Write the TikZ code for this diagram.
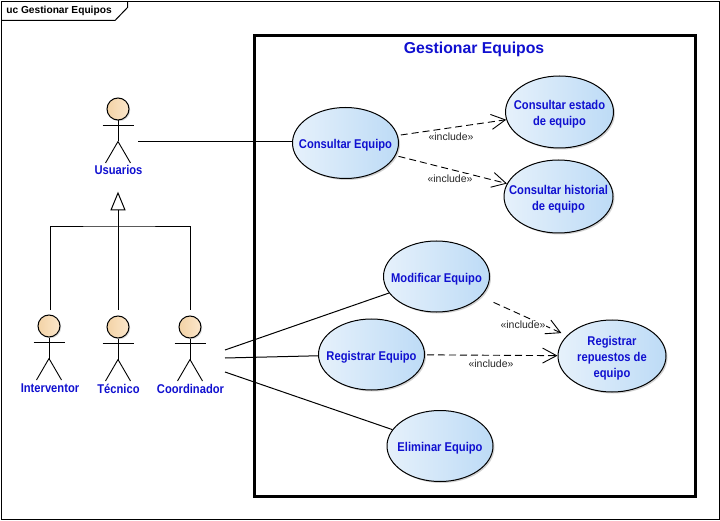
\documentclass[tikz,border=0pt]{standalone}
\usepackage{fontspec}
\setmainfont{Liberation Sans}
\newfontfamily\ucnarrow{Liberation Sans}[FakeStretch=0.88]
\usetikzlibrary{arrows.meta,shapes.geometric,shadows}
\definecolor{ublue}{HTML}{1010D0}
\definecolor{ucL}{HTML}{E6F1FB}
\definecolor{ucR}{HTML}{BDDBF6}
\definecolor{headL}{HTML}{F3D3A6}
\definecolor{headR}{HTML}{FBE6CB}
\newcommand{\uclift}{\rule{0pt}{14pt}}
\tikzset{
  usecase/.style={ellipse,draw=black,line width=1pt,inner xsep=-30pt,inner ysep=-12pt,minimum width=106pt,minimum height=71pt,
    left color=ucL,right color=ucR,text=ublue,align=center,
    font=\ucnarrow\fontsize{12.7}{16.2}\selectfont\bfseries,
    drop shadow={shadow xshift=1.5pt,shadow yshift=-1.5pt,fill=gray,opacity=.35}},
  head/.style={circle,draw=black,line width=1pt,inner sep=0pt,minimum size=22pt,
    left color=headL,right color=headR,
    drop shadow={shadow xshift=1.2pt,shadow yshift=-1.2pt,fill=gray,opacity=.3}},
  actorlabel/.style={text=ublue,font=\ucnarrow\fontsize{12.7}{14}\selectfont\bfseries,inner sep=0pt},
  stick/.style={draw=black,line width=.9pt},
  assoc/.style={draw=black,line width=1pt},
  incl/.style={draw=black,line width=.9pt,dash pattern=on 7pt off 4pt,
    -{Straight Barb[length=14pt,width=15pt,line width=.9pt]}},
  incllabel/.style={font=\fontsize{10.5}{12}\selectfont,inner sep=.5pt,fill=white,text=black!85},
}
\newcommand{\ucactor}[6]{% name, x, heady, label, labely, labelx
  \node[head] (#1h) at (#2,#3) {};
  \draw[stick] (#1h.south) -- ++(0,21) coordinate (#1c);
  \coordinate (#1a) at (#2,#3+16);
  \draw[stick] ([xshift=-15.5pt]#1a) -- ([xshift=15.5pt]#1a);
  \draw[stick] (#1c) -- ++(-12.5,21.5);
  \draw[stick] (#1c) -- ++(12.5,21.5);
  \node[actorlabel] (#1l) at (#6,#5) {#4};
}
\begin{document}
\begin{tikzpicture}[x=1pt,y=-1pt]
\useasboundingbox (0,0) rectangle (720,521);
\fill[white] (0,0) rectangle (720,521);
% frame
\node[draw=none,inner sep=0pt] (tab) at (59,10.5) {\fontsize{10.2}{12}\selectfont\bfseries uc Gestionar Equipos};
\draw[black,line width=1pt] (1.5,1.5) rectangle (719,519.5);
\draw[black,line width=1pt] (1.5,20.5) -- (115,20.5) -- (127.5,7.5) -- (127.5,1.5);
% boundary
\draw[black,line width=3pt] (254,36) rectangle (695,496);
\node[text=ublue,font=\fontsize{15.8}{18}\selectfont\bfseries,inner sep=0pt] (title) at (474,49.5) {Gestionar Equipos};
% use cases
\node[usecase] (ce) at (345.5,143) {\uclift Consultar Equipo};
\node[usecase,minimum width=108pt,minimum height=72pt] (ces) at (559.5,112) {\uclift Consultar estado\\de equipo};
\node[usecase,minimum width=109pt,minimum height=73pt] (ch) at (558.5,196.5) {\uclift Consultar historial\\de equipo};
\node[usecase] (mod) at (436.5,276.5) {\uclift Modificar Equipo};
\node[usecase] (reg) at (371.5,354.5) {\uclift Registrar Equipo};
\node[usecase,minimum width=108pt,minimum height=72pt] (rep) at (612,356) {\uclift Registrar\\repuestos de\\equipo};
\node[usecase] (eli) at (440,446) {\uclift Eliminar Equipo};
% actors
\ucactor{usr}{118}{109}{Usuarios}{170}{118.5}
\ucactor{int}{49}{326}{Interventor}{388}{50}
\ucactor{tec}{118}{327}{Técnico}{389}{118.5}
\ucactor{coo}{190}{327}{Coordinador}{389}{190.5}
% generalization
\coordinate (ga) at (118,193);
\coordinate (gb) at (118,210);
\coordinate (gi) at (50,310);
\coordinate (gt) at (118,310);
\coordinate (gc) at (190,310);
\coordinate (gj) at (118,227);
\draw[assoc,fill=white] (ga) -- ([xshift=-7pt]gb) -- ([xshift=7pt]gb) -- cycle;
\draw[assoc] (gb) -- (gt);
\draw[assoc] (gi) |- (gj) -| (gc);
% associations
\coordinate (ua) at (138,142);
\coordinate (c1) at (225,350);
\coordinate (c2) at (225,358);
\coordinate (c3) at (225,372);
\draw[assoc] (ua) -- (ua -| ce.west);
\draw[assoc] (c1) -- (mod);
\draw[assoc] (c2) -- (reg);
\draw[assoc] (c3) -- (eli);
% includes
\draw[incl,shorten <=3pt] (ce) -- (ces);
\draw[incl,shorten <=3pt] (ce) -- (ch);
\draw[incl,shorten <=14pt,shorten >=6pt] (mod) -- (rep);
\draw[incl,shorten <=2pt] (reg) -- (rep);
\node[incllabel] (l1) at (451,137) {«include»};
\node[incllabel] (l2) at (450,178.5) {«include»};
\node[incllabel] (l3) at (523,325) {«include»};
\node[incllabel] (l4) at (491,364) {«include»};
\end{tikzpicture}
\end{document}
